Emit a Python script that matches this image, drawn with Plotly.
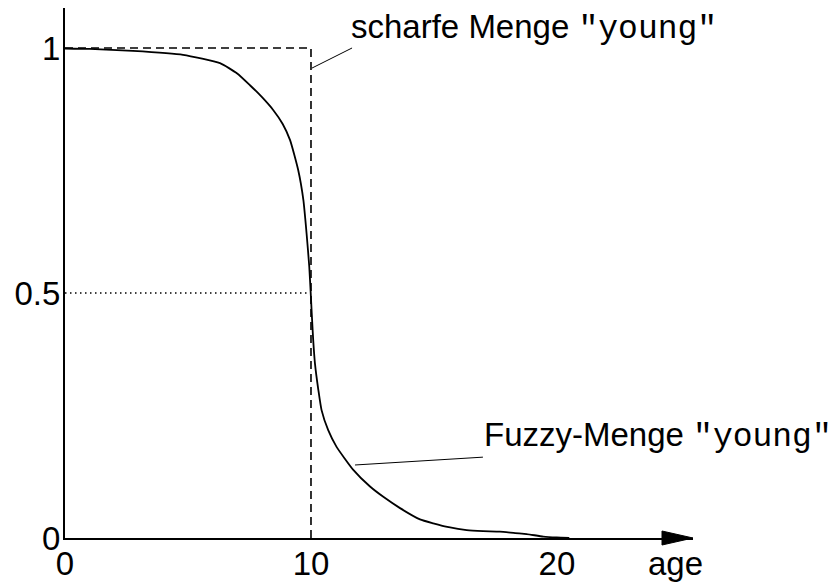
import plotly.graph_objects as go

# ---- data ----
fuzzy_age = [0.0, 1.0, 2.76, 4.8, 6.3, 7.0, 7.52, 8.0, 8.47, 8.85, 9.15, 9.48, 9.69, 9.82,
             9.93, 9.99, 10.03, 10.09, 10.16, 10.30, 10.43, 10.70, 11.04, 11.72, 12.4,
             12.94, 13.62, 14.43, 14.97, 15.6, 16.33, 17.0, 17.68, 18.3, 18.77, 19.44,
             19.99, 20.5]
fuzzy_membership = [0.999, 0.998, 0.994, 0.986, 0.969, 0.948, 0.924, 0.900, 0.873, 0.845,
                    0.812, 0.751, 0.690, 0.622, 0.554, 0.499, 0.459, 0.404, 0.357, 0.302,
                    0.261, 0.220, 0.186, 0.139, 0.105, 0.084, 0.061, 0.038, 0.030, 0.022,
                    0.016, 0.014, 0.013, 0.010, 0.008, 0.003, 0.001, 0.0]

crisp_age = [0, 10, 10]
crisp_membership = [1, 1, 0]

half_age = [0, 10]
half_level = [0.5, 0.5]

x_ticks = [0, 10, 20]
x_tick_labels = ["0", "10", "20"]
y_ticks = [0, 0.5, 1]
y_tick_labels = ["0", "0.5", "1"]

x_title = "age"
crisp_label = 'scharfe Menge <span style="font-family:\'Liberation Mono\', Courier New, monospace">"young"</span>'
fuzzy_label = 'Fuzzy-Menge <span style="font-family:\'Liberation Mono\', Courier New, monospace">"young"</span>'

SANS = "Liberation Sans, Arial, Helvetica, sans-serif"
FS = 33

fig = go.Figure()

fig.add_trace(go.Scatter(x=half_age, y=half_level, mode="lines",
                         line=dict(color="black", width=1.4, dash="1.5px,3.5px"),
                         hoverinfo="skip", showlegend=False))
fig.add_trace(go.Scatter(x=crisp_age, y=crisp_membership, mode="lines",
                         line=dict(color="black", width=1.6, dash="8px,5px"),
                         hoverinfo="skip", showlegend=False, cliponaxis=False))
fig.add_trace(go.Scatter(x=fuzzy_age, y=fuzzy_membership, mode="lines",
                         line=dict(color="black", width=1.8, shape="spline", smoothing=0.5),
                         hoverinfo="skip", showlegend=False, cliponaxis=False))

# leader lines
fig.add_shape(type="line", x0=10.04, y0=0.959, x1=11.67, y1=1.0,
              line=dict(color="black", width=1))
fig.add_shape(type="line", x0=11.79, y0=0.149, x1=16.99, y1=0.165,
              line=dict(color="black", width=1))

# x-axis arrowhead
ph = 530.0
fig.add_shape(type="path", xref="x", yref="paper",
              path=f"M 24.27 {7/ph} L 25.53 0 L 24.27 {-7/ph} Z",
              fillcolor="black", line=dict(color="black", width=1))

fig.add_annotation(x=11.55, y=1.040, xref="x", yref="y", text=crisp_label,
                   showarrow=False, xanchor="left", yanchor="middle",
                   font=dict(family=SANS, size=FS, color="black"))
fig.add_annotation(x=16.97, y=0.208, xref="x", yref="y", text=fuzzy_label,
                   showarrow=False, xanchor="left", yanchor="middle",
                   font=dict(family=SANS, size=FS, color="black"))
fig.add_annotation(x=24.8, y=0, xref="x", yref="y", text=x_title, yshift=-25,
                   showarrow=False, xanchor="center", yanchor="middle",
                   font=dict(family=SANS, size=FS, color="black"))

# the page body adds an 8px offset, so the figure is 8px smaller on each axis
fig.update_layout(
    width=832, height=575,
    margin=dict(l=57, r=147, t=0, b=45),
    paper_bgcolor="white", plot_bgcolor="white",
    xaxis=dict(range=[0, 25.53], tickvals=x_ticks, ticktext=x_tick_labels,
               showline=True, linecolor="black", linewidth=2, ticks="",
               showgrid=False, zeroline=False, automargin=False,
               ticklabelstandoff=-5,
               tickfont=dict(family=SANS, size=FS, color="black")),
    yaxis=dict(range=[0, 1.0816], tickvals=y_ticks, ticktext=y_tick_labels,
               showline=True, linecolor="black", linewidth=2, ticks="",
               showgrid=False, zeroline=False, automargin=False,
               ticklabelstandoff=-4,
               tickfont=dict(family=SANS, size=FS, color="black")),
)

fig.write_html("out.html")
